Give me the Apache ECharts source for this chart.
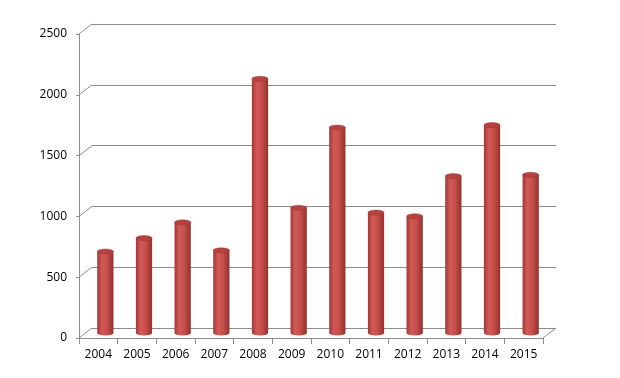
<!DOCTYPE html>
<html>
<head>
<meta charset="utf-8">
<title>Yearly chart</title>
<script src="https://cdn.jsdelivr.net/npm/echarts@6/dist/echarts.min.js"></script>
<style>
    html,body{ margin:0; padding:0; background:#fff;}
    #chart{ width:620px; height:378px;}
</style>
</head>
<body>
<div id="chart"></div>
<script>
var years = ['2004','2005','2006','2007','2008','2009','2010','2011','2012','2013','2014','2015'];
var values = [670, 780, 910, 680, 2090, 1030, 1690, 990, 960, 1290, 1710, 1300];
var yTicks = [0, 500, 1000, 1500, 2000, 2500];

var lineColor = '#8c8c8c';
var chart = echarts.init(document.getElementById('chart'));

// cylinder: body + bottom + top ellipse
function renderCylinder(params, api) {
    var top = api.coord([api.value(0), api.value(1)]);
    var base = api.coord([api.value(0), 0]);
    var w = api.size([1, 0])[0] * 0.42;
    var rx = w / 2, ry = 2.6;
    var x = top[0] - rx;
    var body = new echarts.graphic.LinearGradient(0, 0, 1, 0, [
        {offset: 0, color: '#a23734'},
        {offset: 0.3, color: '#d25a56'},
        {offset: 0.6, color: '#c64f4b'},
        {offset: 1, color: '#92302d'}
    ]);
    return {
        type: 'group',
        children: [
            {type: 'circle', x: base[0], y: base[1], scaleY: ry / rx,
             shape: {cx: 0, cy: 0, r: rx}, style: {fill: body}},
            {type: 'rect', shape: {x: x, y: top[1], width: w, height: base[1] - top[1]},
             style: {fill: body}},
            {type: 'circle', x: top[0], y: top[1], scaleY: ry / rx,
             shape: {cx: 0, cy: 0, r: rx},
             style: {fill: '#b5423f', stroke: '#9a3230', lineWidth: 0.6}}
        ]
    };
}

// side wall + floor edges
function renderEdges(params, api) {
    var v = api.value(0);
    var p = api.coord([0, v]);
    var kids = [{type: 'line', shape: {x1: p[0], y1: p[1], x2: p[0] - 13, y2: p[1] + 10},
                 style: {stroke: lineColor, lineWidth: 1}}];
    if (v === 0) {
        var q = api.coord([1, 0]);
        kids.push({type: 'line', shape: {x1: q[0], y1: q[1], x2: q[0] - 13, y2: q[1] + 10},
                   style: {stroke: lineColor, lineWidth: 1}});
    }
    return {type: 'group', children: kids};
}

var option = {
    animation: false,
    grid: [
        {left: 92, right: 64, top: 24, bottom: 50},   // back wall
        {left: 86, right: 70, top: 29, bottom: 45},   // bar plane
        {left: 79, right: 77, top: 34, bottom: 40}    // front axes
    ],
    xAxis: [
        {gridIndex: 0, type: 'value', min: 0, max: 1, show: false},
        {gridIndex: 1, type: 'category', data: years, show: false},
        {gridIndex: 2, type: 'category', data: years,
         axisLine: {lineStyle: {color: lineColor}},
         axisTick: {show: true, length: 6, lineStyle: {color: lineColor}},
         axisLabel: {color: '#000', fontSize: 12, fontFamily: 'Open Sans', margin: 11}}
    ],
    yAxis: [
        {gridIndex: 0, type: 'value', min: 0, max: 2500, interval: 500,
         axisLine: {show: false}, axisTick: {show: false}, axisLabel: {show: false},
         splitLine: {lineStyle: {color: lineColor, width: 1}}},
        {gridIndex: 1, type: 'value', min: 0, max: 2500, interval: 500, show: false},
        {gridIndex: 2, type: 'value', min: 0, max: 2500, interval: 500,
         axisLine: {show: true, lineStyle: {color: lineColor}},
         axisTick: {show: true, length: 3, lineStyle: {color: lineColor}},
         splitLine: {show: false},
         axisLabel: {color: '#000', fontSize: 12, fontFamily: 'Open Sans', margin: 12,
                     formatter: function (v) { return String(v); }}}
    ],
    series: [
        {type: 'custom', xAxisIndex: 0, yAxisIndex: 0, renderItem: renderEdges,
         data: yTicks, silent: true, z: 1},
        {type: 'custom', xAxisIndex: 1, yAxisIndex: 1, renderItem: renderCylinder,
         encode: {x: 0, y: 1},
         data: values.map(function (v, i) { return [i, v]; }), z: 5}
    ]
};
chart.setOption(option);
</script>
</body>
</html>
